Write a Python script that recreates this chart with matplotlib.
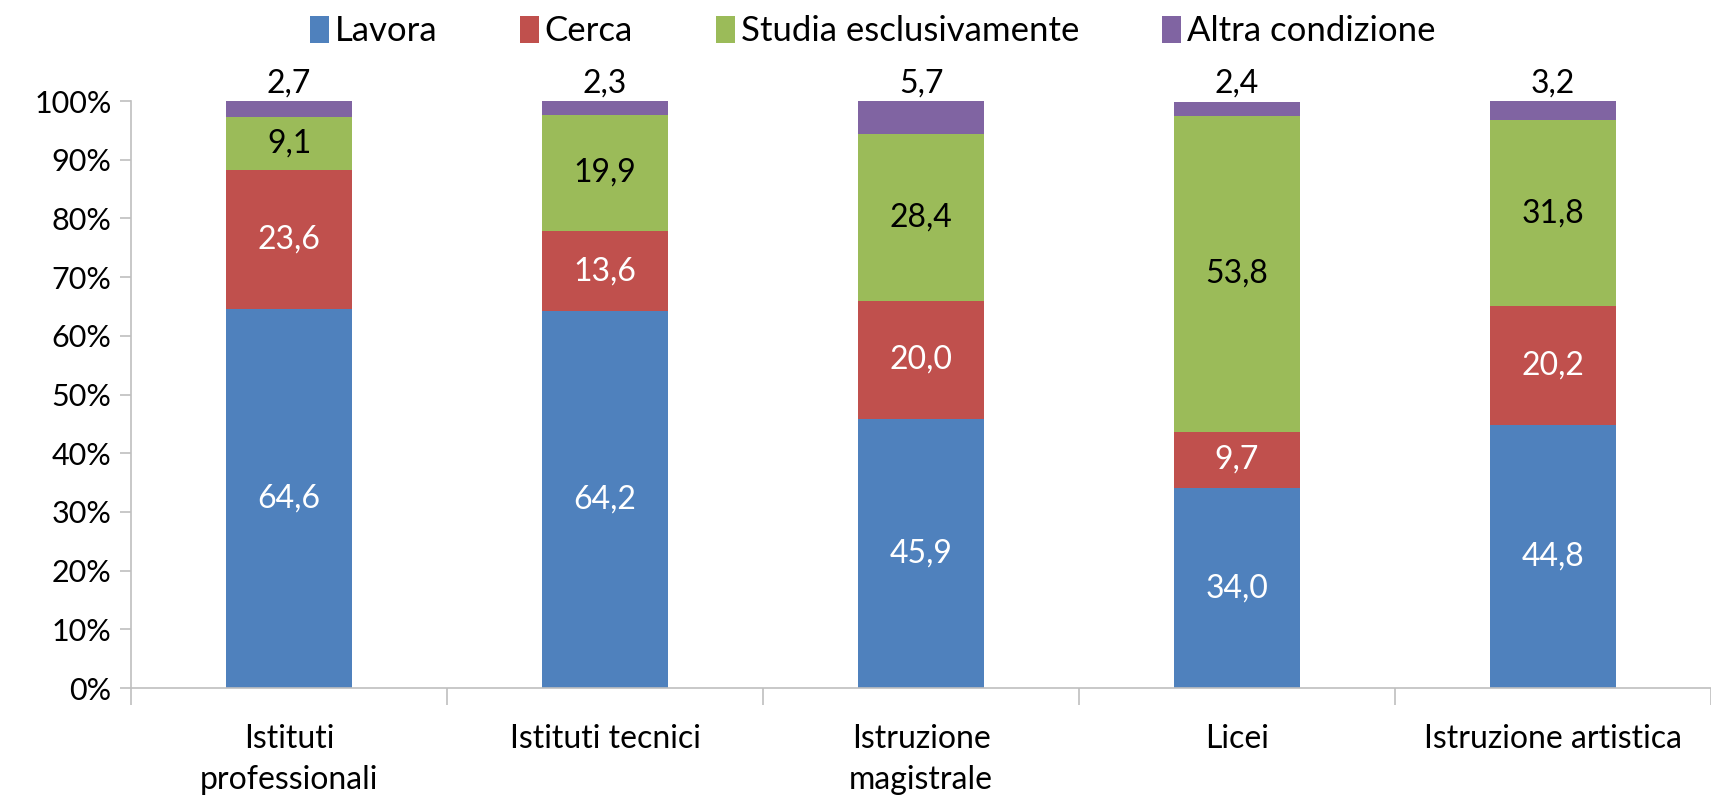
import numpy as np
import matplotlib
matplotlib.use('Agg')
from matplotlib import pyplot as plt
from matplotlib.ticker import PercentFormatter

plt.rcParams['font.family'] = ['Lato', 'DejaVu Sans']

categories = ['Istituti\nprofessionali', 'Istituti tecnici', 'Istruzione\nmagistrale', 'Licei', 'Istruzione artistica']
series = ['Lavora', 'Cerca', 'Studia esclusivamente', 'Altra condizione']
lavora = [64.6, 64.2, 45.9, 34.0, 44.8]
cerca = [23.6, 13.6, 20.0, 9.7, 20.2]
studia = [9.1, 19.9, 28.4, 53.8, 31.8]
altra = [2.7, 2.3, 5.7, 2.4, 3.2]

colors = ['#4F81BD', '#C0504D', '#9BBB59', '#8064A2']
text_colors = ['white', 'white', 'black', 'black']
grey = '#BFBFBF'

fig = plt.figure(figsize=(17.11, 7.98), dpi=100)
ax = fig.add_axes([0.0766, 0.1378, 0.9234, 0.7356])

x = np.arange(len(categories))
bottom = np.zeros(len(categories))
for i, (name, vals) in enumerate(zip(series, [lavora, cerca, studia, altra])):
    vals = np.array(vals)
    ax.bar(x, vals / 100, width=0.4, bottom=bottom / 100, color=colors[i], label=name)
    for xi, b, v in zip(x, bottom, vals):
        lab = f'{v:.1f}'.replace('.', ',')
        if i == 3:
            # last series: label sits above the bar
            ax.text(xi, 1.0 + 0.004, lab, ha='center', va='bottom', fontsize=23, color='black')
        else:
            ax.text(xi, (b + v / 2) / 100, lab, ha='center', va='center', fontsize=23, color=text_colors[i])
    bottom += vals

ax.set_xlim(-0.5, len(categories) - 0.5)
ax.set_ylim(0, 1)
ax.yaxis.set_major_formatter(PercentFormatter(1.0, decimals=0))
ax.set_yticks(np.arange(0, 1.01, 0.1))
ax.tick_params(axis='y', labelsize=22, length=8, color=grey, width=1.2, pad=6)

ax.set_xticks(x)
ax.set_xticklabels(categories, fontsize=23, linespacing=1.45, va='top')
ax.tick_params(axis='x', length=0, pad=26)
ax.set_xticks(np.arange(-0.5, len(categories) + 0.5, 1), minor=True)
ax.tick_params(axis='x', which='minor', length=12, color=grey, width=1.2)

for s in ['top', 'right']:
    ax.spines[s].set_visible(False)
for s in ['left', 'bottom']:
    ax.spines[s].set_color(grey)
    ax.spines[s].set_linewidth(1.2)

fig.legend(loc='upper center', bbox_to_anchor=(0.51, 1.02), ncol=4, frameon=False,
           fontsize=25, handlelength=0.55, handleheight=0.8, handletextpad=0.15, columnspacing=2.4)

plt.savefig('out.png', dpi=100)
